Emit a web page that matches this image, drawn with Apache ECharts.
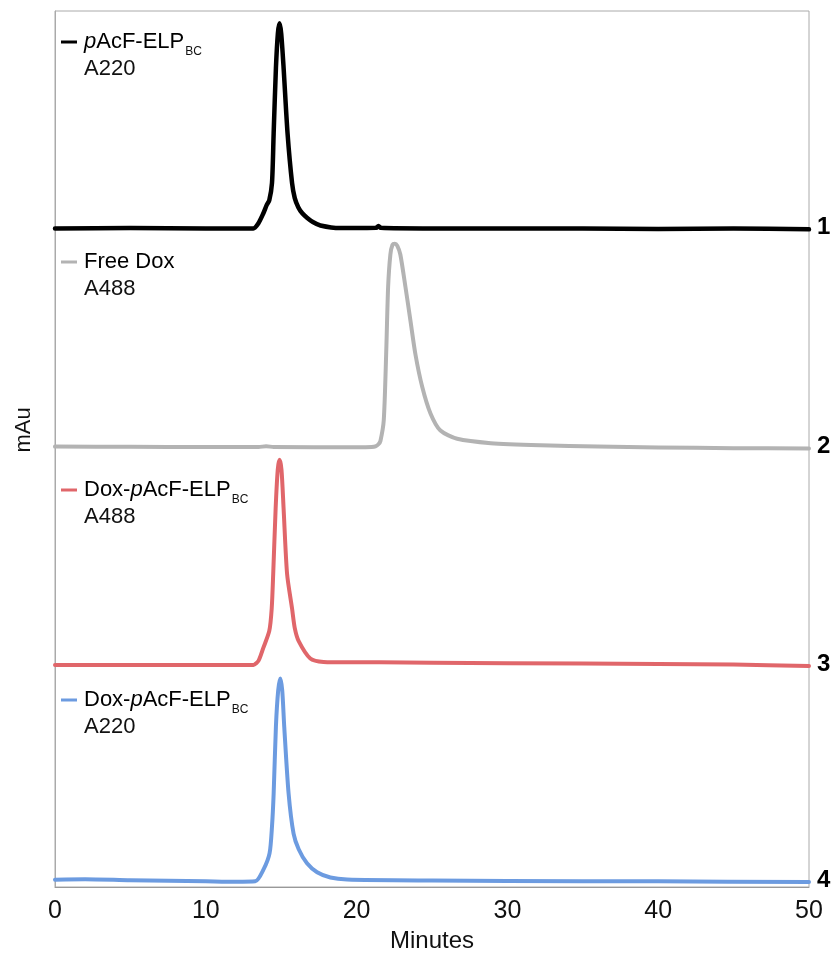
<!DOCTYPE html>
<html>
<head>
<meta charset="utf-8">
<script src="https://cdn.jsdelivr.net/npm/echarts@6/dist/echarts.min.js"></script>
<style>html,body{margin:0;padding:0;background:#fff;}#c{width:833px;height:954px;}</style>
</head>
<body>
<div id="c"></div>
<script>
// ---- data ----
const xTicks = [0, 10, 20, 30, 40, 50];
const traceIds = ['1', '2', '3', '4'];
const traceNames = ['pAcF-ELP A220', 'Free Dox A488', 'Dox-pAcF-ELP A488', 'Dox-pAcF-ELP A220'];
// vertical stacking offset of each trace (in normalized mAu units)
const traceOffsets = [3.037, 2.027, 1.024, 0.026];

// trace 1: pAcF-ELP_BC, A220
const t1Time = [0, 5, 10, 12, 13.15, 13.48, 13.81, 14.05, 14.21, 14.39, 14.5, 14.65, 14.78, 14.89, 15.0, 15.16, 15.42, 15.72, 15.9, 16.14, 16.4, 16.71, 17.1, 17.6, 18.9, 21.3, 21.45, 21.6, 25, 30, 35, 40, 45, 50];
const t1Val  = [0.0, 0.002, 0.0, 0.0, 0.0, 0.023, 0.069, 0.11, 0.13, 0.21, 0.44, 0.74, 0.90, 0.946, 0.90, 0.74, 0.44, 0.21, 0.14, 0.097, 0.07, 0.05, 0.03, 0.014, 0.002, 0.003, 0.012, 0.003, 0.0, 0.0, 0.0, -0.002, 0.0, -0.004];

// trace 2: Free Dox, A488
const t2Time = [0, 5, 10, 13.5, 14.0, 14.5, 20, 21.0, 21.25, 21.45, 21.58, 21.8, 21.96, 22.09, 22.24, 22.38, 22.53, 22.7, 22.9, 23.24, 23.57, 23.9, 24.35, 24.9, 25.56, 26.67, 28.9, 32.2, 36, 40, 45, 50];
const t2Val  = [0.004, 0.003, 0.002, 0.002, 0.006, 0.002, 0.001, 0.002, 0.005, 0.015, 0.03, 0.125, 0.43, 0.74, 0.89, 0.935, 0.94, 0.93, 0.89, 0.74, 0.585, 0.43, 0.28, 0.157, 0.078, 0.04, 0.02, 0.01, 0.004, 0.0, -0.003, -0.005];

// trace 3: Dox-pAcF-ELP_BC, A488
const t3Time = [0, 5, 10, 13.0, 13.16, 13.5, 13.82, 14.21, 14.37, 14.47, 14.63, 14.77, 14.89, 15.02, 15.16, 15.39, 15.72, 15.9, 16.16, 16.93, 17.81, 19.4, 21.5, 25, 30, 40, 45, 50];
const t3Val  = [0.0, 0.0, 0.0, 0.0, 0.0, 0.02, 0.08, 0.157, 0.26, 0.42, 0.72, 0.90, 0.946, 0.90, 0.72, 0.42, 0.26, 0.17, 0.11, 0.03, 0.014, 0.012, 0.012, 0.01, 0.008, 0.005, 0.002, -0.005];

// trace 4: Dox-pAcF-ELP_BC, A220
const t4Time = [0, 2, 5, 10, 12, 13.28, 13.83, 14.23, 14.39, 14.5, 14.65, 14.8, 14.94, 15.07, 15.2, 15.49, 15.82, 16.16, 16.71, 17.38, 18.26, 19.37, 25, 30, 40, 50];
const t4Val  = [0.008, 0.01, 0.005, 0.0, -0.002, 0.0, 0.055, 0.13, 0.254, 0.406, 0.715, 0.88, 0.936, 0.88, 0.715, 0.406, 0.22, 0.148, 0.083, 0.042, 0.018, 0.009, 0.004, 0.002, 0.0, -0.003];

const traceTimes = [t1Time, t2Time, t3Time, t4Time];
const traceVals = [t1Val, t2Val, t3Val, t4Val];

// legend texts
const legPrefix = ['', 'Free Dox', 'Dox-', 'Dox-'];
const legItalic = ['p', '', 'p', 'p'];
const legRest = ['AcF-ELP', '', 'AcF-ELP', 'AcF-ELP'];
const legSub = ['BC', '', 'BC', 'BC'];
const legLine2 = ['A220', 'A488', 'A488', 'A220'];

// ---- styles ----
const FONT = "'Liberation Sans', Arial, Helvetica, sans-serif";
const colors = ['#000000', '#b3b3b3', '#e0666a', '#6c9be0'];
const widths = [4.5, 4, 4, 4];

const series = traceIds.map((id, i) => ({
  name: traceNames[i],
  type: 'line',
  showSymbol: false,
  smooth: 0.25,
  clip: false,
  lineStyle: { color: colors[i], width: widths[i], join: 'round', cap: 'round' },
  itemStyle: { color: colors[i] },
  data: traceTimes[i].map((t, k) => [t, traceOffsets[i] + traceVals[i][k]]),
  endLabel: {
    show: true,
    formatter: () => id,
    fontFamily: FONT,
    fontWeight: 'bold',
    fontSize: 24,
    color: '#000',
    distance: 8,
    offset: [0, -2]
  },
  animation: false
}));

// measure text widths to place subscripts
const mctx = document.createElement('canvas').getContext('2d');
function tw(text, style) {
  if (!text) return 0;
  mctx.font = (style || '') + ' 22px ' + FONT;
  return mctx.measureText(text).width;
}
const rich = {
  n: { fontFamily: FONT, fontSize: 22, color: '#111' },
  i: { fontFamily: FONT, fontSize: 22, color: '#111', fontStyle: 'italic' }
};
const legendY = [42, 262, 490, 700];
const textX = 84;
const graphic = [];
traceIds.forEach((id, i) => {
  graphic.push({
    type: 'line', shape: { x1: 61, y1: legendY[i], x2: 77, y2: legendY[i] },
    style: { stroke: colors[i], lineWidth: 3 }
  });
  let parts = '';
  if (legPrefix[i]) parts += '{n|' + legPrefix[i] + '}';
  if (legItalic[i]) parts += '{i|' + legItalic[i] + '}';
  if (legRest[i]) parts += '{n|' + legRest[i] + '}';
  graphic.push({
    type: 'text', x: textX, y: legendY[i],
    style: { text: parts, rich: rich, verticalAlign: 'middle' }
  });
  if (legSub[i]) {
    const w = tw(legPrefix[i]) + tw(legItalic[i], 'italic') + tw(legRest[i]);
    graphic.push({
      type: 'text', x: textX + w + 1, y: legendY[i] + 10,
      style: { text: legSub[i], fontFamily: FONT, fontSize: 12, fill: '#111', verticalAlign: 'middle' }
    });
  }
  graphic.push({
    type: 'text', x: textX, y: legendY[i] + 27,
    style: { text: legLine2[i], fontFamily: FONT, fontSize: 22, fill: '#111', verticalAlign: 'middle' }
  });
});
graphic.push({
  type: 'text', x: 24, y: 430, rotation: Math.PI / 2,
  style: { text: 'mAu', fontFamily: FONT, fontSize: 22, fill: '#111', align: 'center', verticalAlign: 'middle' }
});

const chart = echarts.init(document.getElementById('c'), null, { renderer: 'canvas' });
chart.setOption({
  animation: false,
  backgroundColor: '#fff',
  grid: { left: 55, right: 24, top: 11, bottom: 67, outerBoundsMode: 'none', containLabel: false, show: true, borderColor: '#aaaaaa', borderWidth: 1, backgroundColor: 'transparent' },
  xAxis: {
    type: 'value', min: xTicks[0], max: xTicks[xTicks.length - 1], interval: 10,
    axisLine: { show: true, lineStyle: { color: '#999', width: 1 } },
    axisTick: { show: false },
    splitLine: { show: false },
    axisLabel: { fontFamily: FONT, fontSize: 25, color: '#111', margin: 12 },
    name: 'Minutes', nameLocation: 'middle', nameGap: 41,
    nameTextStyle: { fontFamily: FONT, fontSize: 24, color: '#111' }
  },
  yAxis: {
    type: 'value', min: 0, max: 4.04,
    axisLine: { show: true, lineStyle: { color: '#aaa', width: 1 } },
    axisTick: { show: false },
    axisLabel: { show: false },
    splitLine: { show: false }
  },
  series: series,
  graphic: graphic
});
</script>
</body>
</html>
